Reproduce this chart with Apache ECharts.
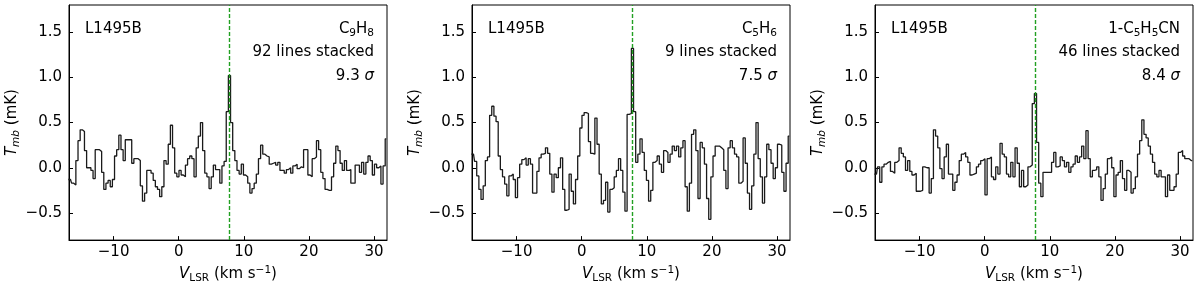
<!DOCTYPE html>
<html>
<head>
<meta charset="utf-8">
<script src="https://cdn.jsdelivr.net/npm/echarts@6/dist/echarts.min.js"></script>
<style>
html,body{margin:0;padding:0;background:#fff;}
#chart{width:1200px;height:289px;}
</style>
</head>
<body>
<div id="chart"></div>
<script>
// Velocity grid of the stacked spectra (channel centres, km/s)
const vStart = -16.95;
const dv = 0.33;
const vSys = 7.7;
const xRange = [-16.85, 32.0];
const yRange = [-0.8, 1.8];
const xTicks = [-10, 0, 10, 20, 30];
const yTicks = [-0.5, 0.0, 0.5, 1.0, 1.5];

const sourceName = 'L1495B';
const molecules = ['{n|C}{s|9}{n|H}{s|8}', '{n|C}{s|5}{n|H}{s|6}', '{n|1-C}{s|5}{n|H}{s|5}{n|CN}'];
const stackLabels = ['92 lines stacked', '9 lines stacked', '46 lines stacked'];
const sigmaLabels = ['9.3', '7.5', '8.4'];

// T_mb (mK) per channel
const tmbC9H8 = [
 -0.13,-0.13,-0.17,-0.19,0.08,0.30,0.42,0.40,0.19,0.00,
 0.00,-0.03,-0.12,0.20,0.20,0.18,-0.05,-0.24,-0.17,-0.14,
 -0.21,-0.13,0.13,0.20,0.36,0.20,0.08,0.31,0.31,0.31,
 0.05,0.10,0.10,0.08,-0.20,-0.37,-0.28,-0.03,-0.03,-0.06,
 -0.14,-0.21,-0.24,-0.32,-0.21,0.08,0.04,0.26,0.47,0.22,
 -0.06,-0.10,-0.03,-0.08,-0.10,0.03,0.10,0.13,0.10,-0.10,
 0.22,0.35,0.50,0.19,-0.06,-0.10,-0.23,-0.10,0.03,-0.02,
 -0.02,-0.17,0.02,0.07,0.62,1.02,0.50,0.19,0.08,-0.03,
 -0.07,0.04,-0.08,-0.10,-0.17,-0.28,-0.23,-0.17,-0.07,0.10,
 0.25,0.15,0.13,0.12,0.04,0.05,0.06,0.03,0.06,-0.03,
 -0.03,-0.06,-0.02,0.00,-0.06,0.02,0.04,-0.01,0.01,0.00,
 0.20,0.20,-0.08,-0.10,0.10,0.12,0.30,0.20,-0.05,-0.12,
 -0.24,-0.25,-0.25,-0.10,0.05,0.24,0.19,0.05,-0.03,0.08,
 -0.03,-0.02,-0.17,-0.17,0.03,0.03,-0.05,0.06,-0.07,0.06,
 0.13,0.08,-0.08,0.04,0.00,0.02,-0.18,0.02,0.32
];
const tmbC5H6 = [
 0.15,0.15,0.07,-0.09,-0.24,-0.35,-0.20,0.08,0.12,0.58,
 0.68,0.57,0.51,0.13,-0.02,-0.10,-0.18,-0.31,-0.09,-0.07,
 -0.13,-0.33,-0.11,0.04,0.09,0.11,0.03,0.10,0.04,-0.28,
 -0.28,-0.04,0.11,0.15,0.16,0.22,0.16,-0.07,-0.27,-0.07,
 -0.11,0.00,0.11,-0.24,-0.47,-0.46,-0.07,-0.26,-0.40,-0.13,
 0.13,0.44,0.58,0.61,0.60,0.29,0.16,0.15,0.55,0.26,
 -0.07,-0.40,-0.36,-0.16,-0.49,-0.24,-0.22,-0.10,-0.03,0.10,
 -0.03,-0.27,-0.48,0.59,0.60,1.32,0.62,0.06,0.15,0.32,
 0.17,-0.03,-0.14,-0.37,-0.25,0.06,0.08,0.13,0.04,-0.05,
 0.19,0.17,0.06,0.15,0.24,0.19,0.24,0.12,0.22,0.30,
 -0.21,-0.48,-0.17,0.37,0.42,0.19,-0.34,0.28,0.22,0.04,
 -0.34,-0.57,-0.10,0.13,0.24,0.24,0.22,0.20,-0.03,-0.23,
 0.22,0.30,0.22,0.15,0.12,-0.17,-0.15,0.33,0.05,-0.28,
 -0.46,-0.20,0.15,0.50,0.10,-0.10,-0.39,-0.10,0.26,0.20,
 0.05,-0.12,0.00,0.26,0.25,-0.05,-0.26,0.05,0.35
];
const tmbC5H5CN = [
 -0.07,-0.07,0.01,-0.16,0.01,0.04,0.06,0.07,-0.04,-0.06,
 0.06,0.08,0.22,0.16,0.12,-0.03,0.08,-0.04,-0.08,-0.06,
 -0.26,-0.26,-0.25,0.01,0.00,0.00,-0.28,-0.12,0.42,0.35,
 0.22,-0.01,-0.12,0.12,0.26,-0.07,-0.07,-0.25,-0.16,-0.08,
 0.08,0.15,0.17,0.12,0.06,-0.08,-0.07,-0.06,0.01,0.04,
 0.08,0.10,-0.30,0.10,0.12,-0.10,-0.13,0.01,-0.07,0.27,
 0.15,0.12,-0.07,-0.10,0.06,-0.10,0.22,0.05,-0.21,-0.03,
 -0.21,-0.19,0.01,0.03,0.71,0.82,0.28,-0.17,-0.32,-0.05,
 -0.05,-0.05,-0.05,0.06,0.17,0.01,0.02,0.12,0.08,0.01,
 0.06,-0.05,0.01,0.04,0.13,0.06,0.12,0.24,0.10,0.41,
 0.10,-0.10,-0.03,-0.02,0.01,-0.10,-0.36,-0.23,-0.07,0.10,
 0.12,0.00,-0.32,-0.08,-0.05,0.08,-0.12,-0.25,-0.03,-0.05,
 -0.28,-0.23,-0.10,0.15,0.30,0.53,0.37,0.33,0.24,0.15,
 0.06,-0.07,-0.10,-0.03,-0.10,-0.10,-0.32,-0.08,-0.25,-0.25,
 -0.21,-0.07,0.17,0.19,0.13,0.10,0.10,0.08,0.08
];
const spectra = [tmbC9H8, tmbC5H6, tmbC5H5CN];

// ---- layout ----
const FONT = 'DejaVu Sans';
const FS = 15;
const FSS = 10.5;
const panelLeft = [69, 472, 875];
const panelWidth = 318;
const panelTop = 5;
const panelHeight = 238;

function minus(s){ return String(s).replace('-', '\u2212'); }

const grids = [], xAxes = [], yAxes = [], series = [], graphics = [];
spectra.forEach((vals, k) => {
  grids.push({left: panelLeft[k], top: panelTop, width: panelWidth, height: panelHeight,
    show: true, borderColor: '#000', borderWidth: 1, backgroundColor: 'transparent'});
  xAxes.push({
    type: 'value', gridIndex: k, min: xRange[0], max: xRange[1],
    axisLine: {show: true, onZero: false, lineStyle: {color: '#000', width: 1}},
    axisTick: {show: true, inside: true, length: 4, customValues: xTicks, lineStyle: {color: '#000'}},
    axisLabel: {show: true, customValues: xTicks, margin: 5, color: '#000', fontFamily: FONT, fontSize: FS,
      formatter: v => minus(v)},
    splitLine: {show: false},
    name: '{i|V}{sub|LSR}{n| (km s}{sup|\u22121}{n|)}',
    nameLocation: 'middle', nameGap: 17,
    nameTextStyle: {color: '#000', fontFamily: FONT, fontSize: FS,
      rich: {
        i: {fontStyle: 'italic', fontFamily: FONT, fontSize: FS, lineHeight: 19, color: '#000'},
        n: {fontFamily: FONT, fontSize: FS, lineHeight: 19, color: '#000'},
        sub: {fontFamily: FONT, fontSize: FSS, lineHeight: 10, verticalAlign: 'bottom', color: '#000'},
        sup: {fontFamily: FONT, fontSize: FSS, lineHeight: 10, verticalAlign: 'top', color: '#000'}
      }}
  });
  yAxes.push({
    type: 'value', gridIndex: k, min: yRange[0], max: yRange[1],
    axisLine: {show: true, onZero: false, lineStyle: {color: '#000', width: 1}},
    axisTick: {show: true, inside: true, length: 4, customValues: yTicks, lineStyle: {color: '#000'}},
    axisLabel: {show: true, customValues: yTicks, margin: 7, color: '#000', fontFamily: FONT, fontSize: FS,
      formatter: v => minus(Number(v).toFixed(1))},
    splitLine: {show: false},
    name: '{i|T}{sub|mb}{n| (mK)}',
    nameLocation: 'middle', nameGap: 41, nameRotate: 90,
    nameTextStyle: {color: '#000', fontFamily: FONT, fontSize: FS,
      rich: {
        i: {fontStyle: 'italic', fontFamily: FONT, fontSize: FS, lineHeight: 19, color: '#000'},
        n: {fontFamily: FONT, fontSize: FS, lineHeight: 19, color: '#000'},
        sub: {fontStyle: 'italic', fontFamily: FONT, fontSize: FSS, lineHeight: 10, verticalAlign: 'bottom', color: '#000'}
      }}
  });
  series.push({
    type: 'line', xAxisIndex: k, yAxisIndex: k, step: 'middle',
    showSymbol: false, symbol: 'none', silent: true,
    lineStyle: {color: '#1a1a1a', width: 1.3},
    data: vals.map((t, i) => [vStart + dv * i, t]),
    markLine: {
      silent: true, symbol: 'none', animation: false,
      label: {show: false},
      lineStyle: {color: '#22a022', type: [4, 2], width: 1.4},
      data: [{xAxis: vSys}]
    },
    z: 3
  });
  const L = panelLeft[k], R = panelLeft[k] + panelWidth;
  const base = {fill: '#000', fontFamily: FONT, fontSize: FS, verticalAlign: 'middle'};
  graphics.push({type: 'text', x: L + 16, y: 29, style: Object.assign({}, base, {text: sourceName, align: 'left'})});
  graphics.push({type: 'text', x: R - 13, y: 29, style: Object.assign({}, base, {text: molecules[k], align: 'right',
    rich: {n: {fontFamily: FONT, fontSize: FS, lineHeight: 19, fill: '#000'},
           s: {fontFamily: FONT, fontSize: FSS, lineHeight: 10, verticalAlign: 'bottom', fill: '#000'}}})});
  graphics.push({type: 'text', x: R - 13, y: 52.5, style: Object.assign({}, base, {text: stackLabels[k], align: 'right'})});
  graphics.push({type: 'text', x: R - 13, y: 76, style: Object.assign({}, base, {text: '{n|' + sigmaLabels[k] + ' }{i|\u03c3}', align: 'right',
    rich: {n: {fontFamily: FONT, fontSize: FS, fill: '#000'}, i: {fontFamily: FONT, fontSize: FS, fontStyle: 'italic', fill: '#000'}}})});
});

const chart = echarts.init(document.getElementById('chart'), null, {renderer: 'canvas'});
chart.setOption({
  animation: false,
  backgroundColor: '#fff',
  grid: grids, xAxis: xAxes, yAxis: yAxes, series: series,
  graphic: graphics
});
</script>
</body>
</html>
